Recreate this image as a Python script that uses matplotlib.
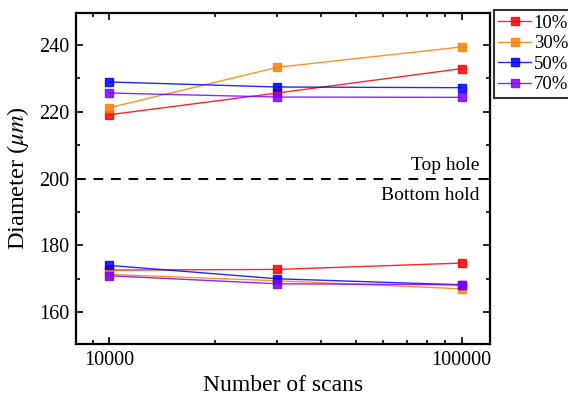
import matplotlib
matplotlib.use("Agg")
import matplotlib.pyplot as plt
from matplotlib.ticker import FixedLocator, LogLocator, MultipleLocator, NullFormatter

plt.rcParams['font.family'] = ['Liberation Serif', 'DejaVu Serif']
plt.rcParams['mathtext.fontset'] = 'stix'

scans = [10000, 30000, 100000]
labels = ['10%', '30%', '50%', '70%']
colors = ['#ff0000', '#ff8000', '#0000ff', '#8000ff']

# top hole diameters
top = {
    '10%': [219.1, 225.6, 232.9],
    '30%': [221.2, 233.3, 239.4],
    '50%': [228.9, 227.4, 227.2],
    '70%': [225.6, 224.4, 224.3],
}
# bottom hole diameters
bottom = {
    '10%': [172.6, 172.8, 174.7],
    '30%': [171.3, 169.4, 167.0],
    '50%': [174.0, 170.0, 168.2],
    '70%': [170.9, 168.5, 168.2],
}

fig = plt.figure(figsize=(5.68, 3.99), dpi=100)
ax = fig.add_axes([0.134, 0.138, 0.729, 0.829])

for lab, c in zip(labels, colors):
    ax.plot(scans, top[lab], '-', color=c, lw=1.0, alpha=0.85, marker='s',
            ms=5.5, mec=c, mfc=c, label=lab)
    ax.plot(scans, bottom[lab], '-', color=c, lw=1.0, alpha=0.85, marker='s',
            ms=5.5, mec=c, mfc=c)

ax.axhline(200, color='black', lw=1.4, dashes=(5, 4))
ax.text(0.975, 203.8, 'Top hole', transform=ax.get_yaxis_transform(),
        ha='right', va='center', fontsize=14)
ax.text(0.975, 194.8, 'Bottom hold', transform=ax.get_yaxis_transform(),
        ha='right', va='center', fontsize=14)

ax.set_xscale('log')
ax.set_xlim(8040, 120600)
ax.set_ylim(150.5, 249.5)
ax.xaxis.set_major_locator(FixedLocator([10000, 100000]))
ax.set_xticklabels(['10000', '100000'])
ax.xaxis.set_minor_locator(LogLocator(base=10, subs=range(2, 10)))
ax.xaxis.set_minor_formatter(NullFormatter())
ax.yaxis.set_major_locator(MultipleLocator(20))
ax.yaxis.set_minor_locator(MultipleLocator(10))

ax.tick_params(which='both', direction='in', top=True, right=True,
               labelsize=14.5, width=1.2)
ax.tick_params(which='major', length=5, pad=5)
ax.tick_params(which='minor', length=3)
for s in ax.spines.values():
    s.set_linewidth(1.6)

ax.set_xlabel('Number of scans', fontsize=17, labelpad=4)
ax.set_ylabel(r'Diameter ($\mu m$)', fontsize=17.5, labelpad=6)

leg = fig.legend(loc='upper left', bbox_to_anchor=(0.869, 0.975),
                 fontsize=13.5, frameon=True, fancybox=False, handlelength=1.75,
                 handletextpad=0.15, borderpad=0.25, labelspacing=0.18,
                 borderaxespad=0)
leg.get_frame().set_edgecolor('black')
leg.get_frame().set_linewidth(1.5)

fig.savefig('out.png', dpi=100)
